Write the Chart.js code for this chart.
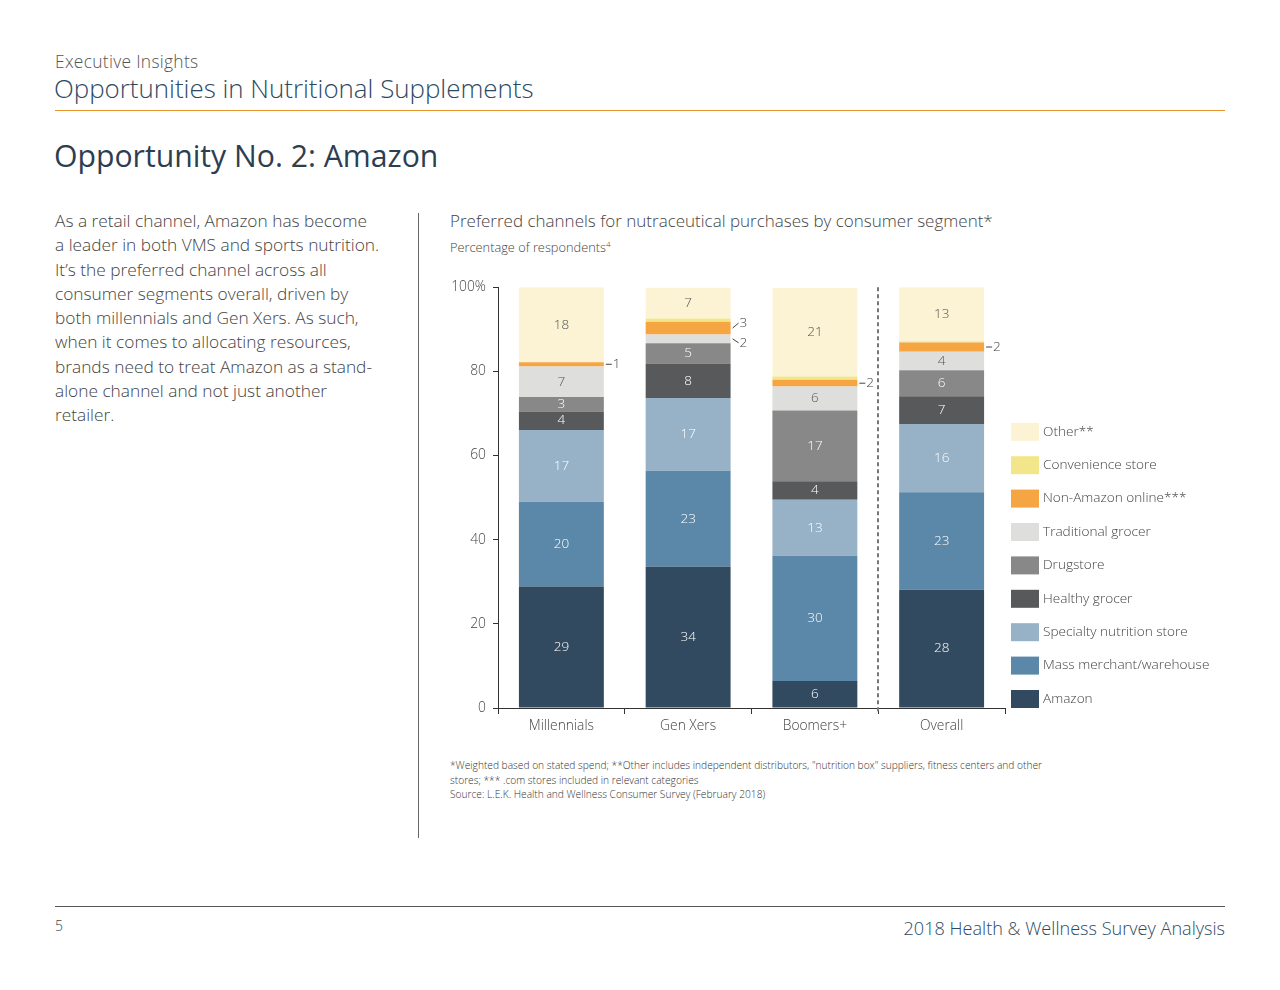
<!DOCTYPE html>
<html>
<head>
<meta charset="utf-8">
<script src="https://cdn.jsdelivr.net/npm/chart.js@4.4.1/dist/chart.umd.min.js"></script>
<style>
  body { margin: 0; width: 1280px; height: 990px; background: #fff; position: relative; overflow: hidden;
         font-family: "Open Sans", "Noto Sans", sans-serif; color: #444; font-weight: 300; }
  .abs { position: absolute; white-space: nowrap; }
  #kicker { left: 55px; top: 50px; font-size: 17.4px; line-height: 22px; color: #555; letter-spacing: 0.3px; }
  #section { left: 54px; top: 73px; font-size: 25.9px; line-height: 31px; color: #2d4a63; }
  #rule-top { left: 55px; top: 110px; width: 1170px; height: 1px; background: #e8942f; }
  #headline { left: 54px; top: 138px; font-size: 30.2px; line-height: 36px; color: #2c3e50; font-weight: 400; }
  #body-text { left: 55px; top: 209px; font-size: 17.3px; line-height: 24.3px; color: #444; }
  #divider { left: 418px; top: 213px; width: 1px; height: 625px; background: #666; }
  #chart-title { left: 450px; top: 210px; font-size: 17px; line-height: 21px; color: #444; }
  #chart-sub { left: 450px; top: 235px; font-size: 12.8px; line-height: 18px; color: #444; }
  #chart-sub sup { font-size: 8px; }
  #chart-box { left: 440px; top: 272px; width: 785px; height: 469px; }
  #notes { left: 450px; top: 758px; font-size: 10.2px; line-height: 14.5px; color: #333; }
  #rule-bottom { left: 55px; top: 906px; width: 1170px; height: 1px; background: #555; }
  #page-no { left: 55px; top: 917px; font-size: 14px; line-height: 18px; color: #444; }
  #footer { right: 55px; top: 917px; font-size: 18.1px; line-height: 22px; color: #2d4a63; }
</style>
</head>
<body>
<div class="abs" id="kicker">Executive Insights</div>
<div class="abs" id="section">Opportunities in Nutritional Supplements</div>
<div class="abs" id="rule-top"></div>
<div class="abs" id="headline">Opportunity No. 2: Amazon</div>
<div class="abs" id="body-text">As a retail channel, Amazon has become<br>a leader in both VMS and sports nutrition.<br>It’s the preferred channel across all<br>consumer segments overall, driven by<br>both millennials and Gen Xers. As such,<br>when it comes to allocating resources,<br>brands need to treat Amazon as a stand-<br>alone channel and not just another<br>retailer.</div>
<div class="abs" id="divider"></div>
<div class="abs" id="chart-title">Preferred channels for nutraceutical purchases by consumer segment*</div>
<div class="abs" id="chart-sub">Percentage of respondents<sup>4</sup></div>
<div class="abs" id="chart-box"><canvas id="channel-chart"></canvas></div>
<div class="abs" id="notes">*Weighted based on stated spend; **Other includes independent distributors, "nutrition box" suppliers, fitness centers and other<br>stores; *** .com stores included in relevant categories<br>Source: L.E.K. Health and Wellness Consumer Survey (February 2018)</div>
<div class="abs" id="rule-bottom"></div>
<div class="abs" id="page-no">5</div>
<div class="abs" id="footer">2018 Health &amp; Wellness Survey Analysis</div>

<script>
// segments, bottom of the stack first
const segments = ['Millennials', 'Gen Xers', 'Boomers+', 'Overall'];
const channels = ['Amazon', 'Mass merchant/warehouse', 'Specialty nutrition store', 'Healthy grocer',
                  'Drugstore', 'Traditional grocer', 'Non-Amazon online***', 'Convenience store', 'Other**'];

const amazon      = [28.9, 33.6,  6.4, 28.1];
const massMerch   = [20.1, 22.8, 29.8, 23.2];
const specialty   = [17.1, 17.3, 13.3, 16.2];
const healthy     = [ 4.4,  8.2,  4.4,  6.6];
const drugstore   = [ 3.4,  4.8, 16.8,  6.2];
const tradGrocer  = [ 7.3,  2.1,  5.7,  4.4];
const nonAmazon   = [ 1.0,  3.0,  1.6,  2.2];
const convenience = [ 0.0,  0.8,  0.8,  0.3];
const other       = [17.8,  7.3, 21.0, 12.8];

const yTicks = [0, 20, 40, 60, 80, 100];

const colors     = ['#324a5f', '#5b87a8', '#97b1c6', '#58595b', '#888888', '#dededc', '#f6a543', '#f3e68a', '#fbf3d3'];
const textColors = ['#fff', '#fff', '#fff', '#fff', '#fff', '#555', '#555', '#555', '#555'];

const series = [amazon, massMerch, specialty, healthy, drugstore, tradGrocer, nonAmazon, convenience, other];

var datasets = [];
for ( var i = 0; i < channels.length; i++ ) {
    datasets.push( {
        label           : channels[i],
        data            : series[i],
        backgroundColor : colors[i],
        borderWidth     : 0,
        categoryPercentage: 1,
        barPercentage   : 0.67
    } );
}

const FONT = '"Open Sans", "Noto Sans", sans-serif';

// value labels, inside the segment or pulled out to the right for thin ones
const segmentLabels = {
    id: 'segmentLabels',
    afterDatasetsDraw(chart) {
        const ctx = chart.ctx;
        ctx.save();
        ctx.font = '300 13.5px ' + FONT;
        ctx.textBaseline = 'middle';
        var outside = {};
        chart.data.datasets.forEach(function(ds, di) {
            if ( ds.label === 'Convenience store' ) return;
            chart.getDatasetMeta(di).data.forEach(function(bar, i) {
                var v = ds.data[i];
                if ( !v ) return;
                var cy = (bar.y + bar.base) / 2;
                if ( ds.label === 'Non-Amazon online***' || v < 2.5 ) {
                    (outside[i] = outside[i] || []).push({ x: bar.x + bar.width / 2, y: cy, text: String(Math.round(v)) });
                    return;
                }
                ctx.fillStyle = textColors[di];
                ctx.textAlign = 'center';
                ctx.fillText(String(Math.round(v)), bar.x, cy);
            });
        });
        ctx.strokeStyle = '#444';
        ctx.lineWidth = 1;
        ctx.fillStyle = '#444';
        ctx.textAlign = 'left';
        Object.keys(outside).forEach(function(k) {
            var list = outside[k];
            list.forEach(function(lab, n) {
                var ly = lab.y;
                if ( list.length > 1 ) ly = lab.y + (n === 0 ? 4 : -5);
                ctx.beginPath();
                ctx.moveTo(lab.x + 2, lab.y);
                ctx.lineTo(lab.x + 8, ly);
                ctx.stroke();
                ctx.fillText(lab.text, lab.x + 9, ly);
            });
        });
        ctx.restore();
    }
};

// dashed separator between the segments and the overall bar
const overallDivider = {
    id: 'overallDivider',
    afterDatasetsDraw(chart) {
        const x = chart.scales.x;
        const area = chart.chartArea;
        const px = Math.round((x.getPixelForValue(2) + x.getPixelForValue(3)) / 2);
        const ctx = chart.ctx;
        ctx.save();
        ctx.strokeStyle = '#777';
        ctx.lineWidth = 2;
        ctx.setLineDash([4, 3]);
        ctx.beginPath();
        ctx.moveTo(px, area.top);
        ctx.lineTo(px, area.bottom + 6);
        ctx.stroke();
        ctx.restore();
    }
};

// legend on the right, top item = top of the stack
const sideLegend = {
    id: 'sideLegend',
    afterDraw(chart) {
        const ctx = chart.ctx;
        const area = chart.chartArea;
        const dsList = chart.data.datasets.slice().reverse();
        const step = 33.4, boxW = 28, boxH = 18;
        var top = area.bottom - boxH - step * (dsList.length - 1);
        ctx.save();
        ctx.font = '300 13.6px ' + FONT;
        ctx.textBaseline = 'middle';
        ctx.textAlign = 'left';
        dsList.forEach(function(ds, n) {
            var y = top + n * step;
            ctx.fillStyle = ds.backgroundColor;
            ctx.fillRect(area.right + 6, y, boxW, boxH);
            ctx.fillStyle = '#444';
            ctx.fillText(ds.label, area.right + 6 + boxW + 4, y + boxH / 2);
        });
        ctx.restore();
    }
};

new Chart(document.getElementById('channel-chart'), {
    type: 'bar',
    data: { labels: segments, datasets: datasets },
    options: {
        responsive: true,
        maintainAspectRatio: false,
        animation: false,
        layout: { padding: { top: 14, right: 220, left: 0, bottom: 0 } },
        plugins: {
            legend: { display: false },
            tooltip: { enabled: false }
        },
        scales: {
            x: {
                stacked: true,
                afterFit: function(scale) { scale.height = 33; },
                grid: { drawOnChartArea: false, drawTicks: true, tickLength: 6, color: '#333', offset: true },
                border: { color: '#333', width: 1 },
                ticks: { color: '#444', font: { family: FONT, size: 13.8, weight: 300 }, padding: 4 }
            },
            y: {
                stacked: true,
                min: 0,
                max: 100,
                afterFit: function(scale) { scale.width = 58; },
                afterBuildTicks: function(scale) { scale.ticks = yTicks.map(function(v) { return { value: v }; }); },
                grid: { drawOnChartArea: false, drawTicks: true, tickLength: 5, color: '#333' },
                border: { color: '#333', width: 1 },
                ticks: {
                    color: '#444',
                    font: { family: FONT, size: 13.8, weight: 300 },
                    padding: 7,
                    callback: function(v) { return v === 100 ? '100%' : v; }
                }
            }
        }
    },
    plugins: [segmentLabels, overallDivider, sideLegend]
});
</script>
</body>
</html>
